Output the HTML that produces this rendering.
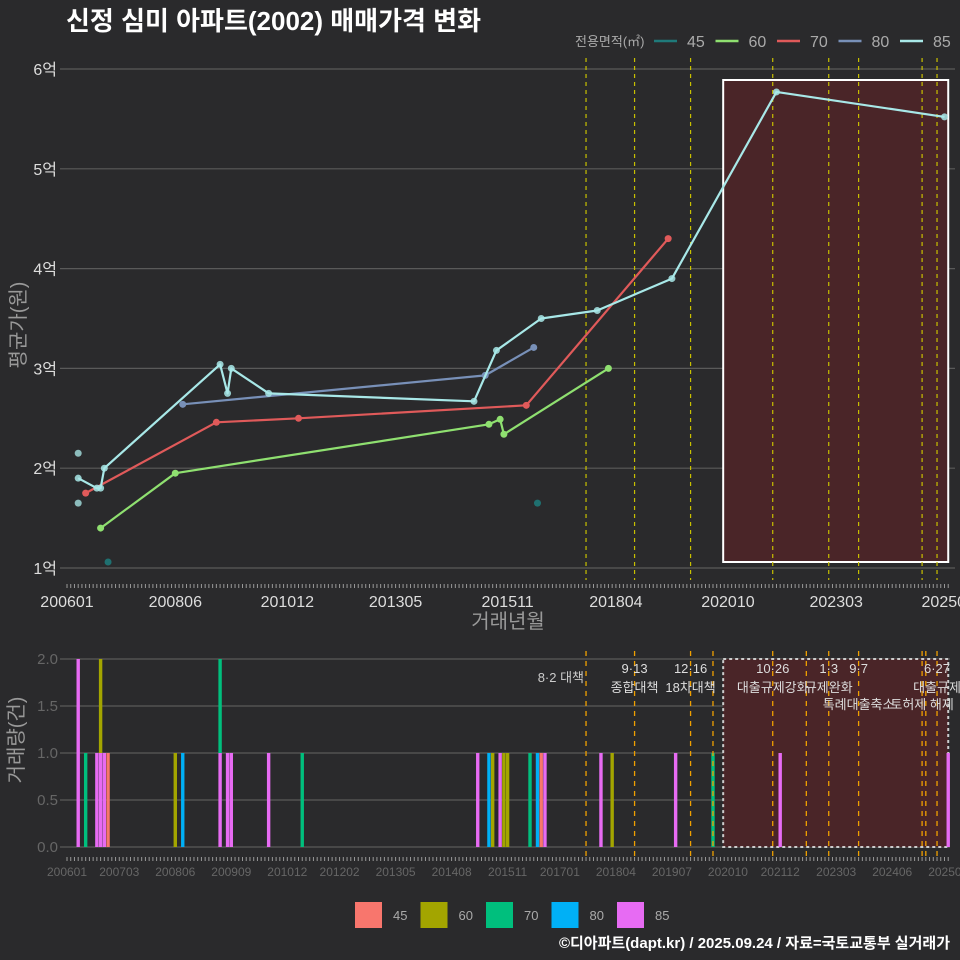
<!DOCTYPE html>
<html><head><meta charset="utf-8">
<style>
body{margin:0;background:#2a2a2c;}
svg{display:block;font-family:"Liberation Sans","Noto Sans CJK KR",sans-serif;}
</style></head>
<body>
<svg id="c" width="960" height="960" viewBox="0 0 960 960" xmlns="http://www.w3.org/2000/svg">
<rect width="960" height="960" fill="#2a2a2c"/>
<text x="66" y="30" font-size="26" font-weight="bold" fill="#fff">신정 심미 아파트(2002) 매매가격 변화</text>
<text x="950" y="948" font-size="15" font-weight="bold" fill="#fff" text-anchor="end">©디아파트(dapt.kr) / 2025.09.24 / 자료=국토교통부 실거래가</text>
<text x="508" y="628" font-size="20" fill="#999" text-anchor="middle">거래년월</text>
<text transform="translate(25,325) rotate(-90)" font-size="20" fill="#999" text-anchor="middle">평균가(원)</text>
<text transform="translate(23,740) rotate(-90)" font-size="20" fill="#999" text-anchor="middle">거래량(건)</text>
<g id="topg"></g><g id="botg"></g><g id="legg"></g>
</svg>
<script>
// ---- data ----
const areas = ["45","60","70","80","85"];
const priceMonths45 = ["200612","201607"];
const priceValues45 = [1.06,1.65];
const priceMonths60 = ["200610","200806","201506","201509","201510","201802"];
const priceValues60 = [1.40,1.95,2.44,2.49,2.34,3.00];
const priceMonths70 = ["200606","200905","201103","201604","201906"];
const priceValues70 = [1.75,2.46,2.50,2.63,4.30];
const priceMonths80 = ["200808","201505","201606"];
const priceValues80 = [2.64,2.93,3.21];
const priceMonths85 = ["200604","200609","200610","200611","200906","200908","200909","201007","201502","201508","201608","201711","201907","202111","202508"];
const priceValues85 = [1.90,1.80,1.80,2.00,3.04,2.75,3.00,2.75,2.67,3.18,3.50,3.58,3.90,5.77,5.52];
const outlierMonths85 = ["200604","200604"];
const outlierValues85 = [2.15,1.65];
const volMonths = ["200604","200606","200609","200610","200611","200612","200806","200808","200906","200908","200909","201007","201104","201503","201506","201507","201509","201510","201511","201605","201607","201608","201609","201712","201803","201908","202006","202112","202509"];
const volArea = ["85","70","85","85+60","85","45","60","80","85+70","85","85","85","70","85","80","60","85","60","60","70","80","45","85","85","60","85","70","85","85"];
const volCounts = ["2","1","1","1+1","1","1","1","1","1+1","1","1","1","1","1","1","1","1","1","1","1","1","1","1","1","1","1","1","1","1"];
const policyMonths = ["201708","201809","201912","202110","202301","202309","202502","202506"];
const extraPolicyMonths = ["202006","202207","202503"];
const policyDates = ["8·2 대책","9·13","12·16","10·26","1·3","9·7","","6·27"];
const policyNames = ["","종합대책","18차대책","대출규제강화","규제완화","특례대출축소","토허제 해제","대출규제"];
const topTicks = ["200601","200806","201012","201305","201511","201804","202010","202303","202509"];
const botTicks = ["200601","200703","200806","200909","201012","201202","201305","201408","201511","201701","201804","201907","202010","202112","202303","202406","202509"];
const yTicks = [1,2,3,4,5,6];
const vTicks = [0,0.5,1,1.5,2];
const shadeStart = "202009", shadeEnd = "202509";

// ---- scales ----
const mIdx = s => (+s.slice(0,4)-2006)*12 + (+s.slice(4,6)-1);
const X = s => 67 + mIdx(s)*3.734;
const Y = v => 568 - (v-1)*99.8;
const V = v => 847 - v*94;
const NS="http://www.w3.org/2000/svg";
function mk(parent,tag,attrs,text){const e=document.createElementNS(NS,tag);for(const k in attrs)e.setAttribute(k,attrs[k]);if(text!==undefined)e.textContent=text;parent.appendChild(e);return e;}
const gTop=document.getElementById('topg'), gBot=document.getElementById('botg'), gLeg=document.getElementById('legg');
const lineCol={"45":"#1f7a7a","60":"#8fe070","70":"#e05a5a","80":"#7890b8","85":"#a8e8e8"};
const barCol={"45":"#f8766d","60":"#a3a500","70":"#00bf7d","80":"#00b0f6","85":"#e76bf3"};

yTicks.forEach(v=>{
  let g=mk(gTop,'line',{x1:60,x2:955,y1:Y(v),y2:Y(v),stroke:'#5a5a5a','stroke-width':1.2});
  
  
  let t=mk(gTop,'text',{x:57,y:Y(v)+6,'font-size':16,fill:'#ddd','text-anchor':'end'},v+'억');
  
  
});
let sh=mk(gTop,'rect',{x:X(shadeStart)-1,y:80,width:X(shadeEnd)-X(shadeStart)+1,height:482,fill:'#4a2528',stroke:'#fff','stroke-width':2});


policyMonths.forEach(m=>{
  let l=mk(gTop,'line',{x1:X(m),x2:X(m),y1:58,y2:580,stroke:'#c8c000','stroke-width':1.2,'stroke-dasharray':'4 4'});
  
  
});
for(let m=0;m<=236;m++){
  let x=67+m*3.734;
  mk(gTop,'line',{x1:x,x2:x,y1:584,y2:588,stroke:'#999','stroke-width':1});
  mk(gBot,'line',{x1:x,x2:x,y1:857,y2:861,stroke:'#999','stroke-width':1});
}
topTicks.forEach(s=>{
  let t=mk(gTop,'text',{x:X(s),y:607,'font-size':16,fill:'#ddd','text-anchor':'middle'},s);
  
  
});
const series={"45":[priceMonths45,priceValues45],"60":[priceMonths60,priceValues60],"70":[priceMonths70,priceValues70],"80":[priceMonths80,priceValues80],"85":[priceMonths85,priceValues85]};
outlierMonths85.forEach((m,i)=>{
  let c=mk(gTop,'circle',{cx:X(m),cy:Y(outlierValues85[i]),r:3.5,fill:'#8cbcbc'});
  
  
});
areas.forEach(a=>{
  const [ms,vs]=series[a];
  if(ms.length>1 && a!=="45"){
    let p=mk(gTop,'polyline',{points:ms.map((m,i)=>X(m)+','+Y(vs[i])).join(' '),fill:'none',stroke:lineCol[a],'stroke-width':2.2,'stroke-linejoin':'round'});
    
    
  }
  ms.forEach((m,i)=>{
    let c=mk(gTop,'circle',{cx:X(m),cy:Y(vs[i]),r:3.5,fill:a==="45"?'#1f7070':lineCol[a],opacity:a==="85"?0.85:1});
    
    
  });
});
mk(gTop,'text',{x:575,y:46,'font-size':13,fill:'#aaa'},'전용면적(㎡)');
areas.forEach((a,i)=>{
  let x0=654+i*61.5;
  let l=mk(gTop,'line',{x1:x0,x2:x0+23,y1:41,y2:41,stroke:lineCol[a],'stroke-width':2.5});
  
  
  let t=mk(gTop,'text',{x:x0+33,y:47,'font-size':16,fill:'#aaa'},a);
  
  
});

vTicks.forEach(v=>{
  let g=mk(gBot,'line',{x1:60,x2:950,y1:V(v),y2:V(v),stroke:'#5a5a5a','stroke-width':1.2});
  
  
  let t=mk(gBot,'text',{x:58,y:V(v)+5,'font-size':15,fill:'#666','text-anchor':'end'},v.toFixed(1));
  
  
});
let sh2=mk(gBot,'rect',{x:X(shadeStart)-1,y:659,width:X(shadeEnd)-X(shadeStart)+1,height:188,fill:'#4a2528',stroke:'#ccc','stroke-width':2,'stroke-dasharray':'3 3'});


volMonths.forEach((m,i)=>{
  const as=volArea[i].split('+'), cs=volCounts[i].split('+').map(Number);
  let base=0;
  as.forEach((a,j)=>{
    let r=mk(gBot,'rect',{x:X(m)-1.7,y:V(base+cs[j]),width:3.4,height:cs[j]*94,fill:barCol[a]});
    
    
    base+=cs[j];
  });
});
policyMonths.concat(extraPolicyMonths).forEach(m=>{
  let l=mk(gBot,'line',{x1:X(m),x2:X(m),y1:651,y2:857,stroke:'#f0a000','stroke-width':1.3,'stroke-dasharray':'5 5'});
  
  
});
policyMonths.forEach((m,i)=>{
  const x=X(m);
  if(i===0){
    let t=mk(gBot,'text',{x:x-2,y:682,'font-size':13,fill:'#ccc','text-anchor':'end'},policyDates[i]);
    
    
    return;
  }
  if(policyDates[i]){
    let t=mk(gBot,'text',{x:x,y:673,'font-size':13,fill:'#ddd','text-anchor':'middle'},policyDates[i]);
    
    
  }
  let yy=(i===5||i===6)?709:692;
  let t2=mk(gBot,'text',{x:x,y:yy,'font-size':13,fill:'#ddd','text-anchor':'middle'},policyNames[i]);
  
  
});
botTicks.forEach(s=>{
  let t=mk(gBot,'text',{x:X(s),y:876,'font-size':12,fill:'#666','text-anchor':'middle'},s);
  
  
});
areas.forEach((a,i)=>{
  let x0=355+i*65.5;
  let r=mk(gLeg,'rect',{x:x0,y:902,width:27,height:26,fill:barCol[a]});
  
  
  let t=mk(gLeg,'text',{x:x0+38,y:920,'font-size':13,fill:'#aaa'},a);
  
  
});
</script>
</body></html>
